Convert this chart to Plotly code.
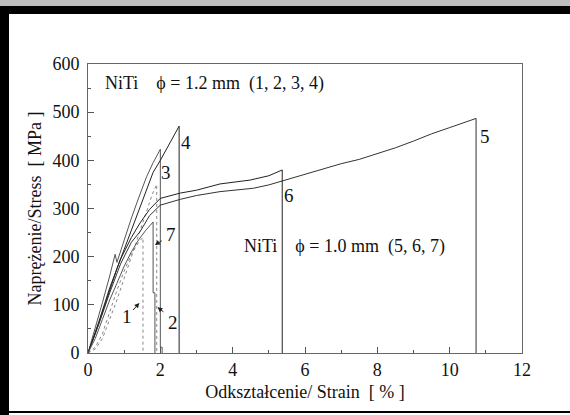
import plotly.graph_objects as go

# ---------------- data ----------------
x_tick_vals = [0, 2, 4, 6, 8, 10, 12]
y_tick_vals = [0, 100, 200, 300, 400, 500, 600]

# curve 1 (dotted)
x1 = [0, 0.2, 0.4, 0.6, 0.8, 1.0, 1.2, 1.4, 1.52, 1.52]
y1 = [0, 12, 40, 85, 130, 170, 205, 230, 240, 0]
# curve 2 (dotted)
x2 = [0, 0.2, 0.4, 0.6, 0.8, 1.0, 1.2, 1.4, 1.6, 1.78, 1.9, 1.9]
y2 = [0, 8, 30, 70, 110, 155, 200, 245, 290, 330, 350, 0]
# curve 3
x3 = [0, 0.2, 0.4, 0.6, 0.75, 0.8, 1.0, 1.2, 1.4, 1.62, 1.8, 2.0, 2.0, 2.05, 2.05]
y3 = [0, 50, 105, 160, 205, 188, 235, 280, 322, 366, 395, 423, 12, 12, 0]
# curve 4
x4 = [0, 0.2, 0.4, 0.6, 0.8, 1.0, 1.2, 1.4, 1.6, 1.8, 2.0, 2.2, 2.4, 2.52, 2.52]
y4 = [0, 40, 85, 130, 175, 215, 255, 295, 335, 375, 400, 428, 455, 471, 0]
# curve 5
x5 = [0, 0.3, 0.6, 0.9, 1.2, 1.44, 1.7, 2.0, 2.55, 3.0, 3.65, 4.57, 5.0, 5.37,
      6.0, 6.5, 7.0, 7.5, 8.0, 8.5, 9.0, 9.5, 10.0, 10.4, 10.73, 10.73]
y5 = [0, 60, 125, 185, 230, 252, 285, 307, 319, 327, 335, 342, 349, 357,
      372, 383, 393, 402, 414, 426, 440, 455, 468, 478, 487, 0]
# curve 6
x6 = [0, 0.3, 0.6, 0.9, 1.2, 1.44, 1.7, 2.0, 2.55, 3.0, 3.65, 4.48, 5.0, 5.37, 5.37]
y6 = [0, 65, 135, 195, 240, 270, 298, 321, 332, 338, 351, 359, 368, 380, 0]
# curve 7
x7 = [0, 0.2, 0.4, 0.6, 0.8, 1.0, 1.2, 1.4, 1.6, 1.8, 1.8, 1.85, 1.85]
y7 = [0, 30, 70, 110, 145, 180, 210, 235, 255, 272, 125, 125, 0]

curve_labels = ["1", "2", "3", "4", "5", "6", "7"]
label_x = [1.07, 2.34, 2.16, 2.71, 10.98, 5.57, 2.29]
label_y = [75, 63, 374, 436, 450, 328, 245]

FONT = "Liberation Serif"

fig = go.Figure()

def add(x, y, color, dash="solid", width=1):
    fig.add_trace(go.Scatter(x=x, y=y, mode="lines",
                             line=dict(color=color, width=width, dash=dash),
                             showlegend=False, hoverinfo="skip"))

add(x1, y1, "#888888", "dot")
add(x2, y2, "#888888", "dot")
add(x3, y3, "#555555")
add(x4, y4, "#222222")
add(x5, y5, "#333333")
add(x6, y6, "#222222")
add(x7, y7, "#555555")

# ------------- layout -------------
W, H = 570, 415
L, R, T, B = 88, 48, 64, 62
pw, ph = W - L - R, H - T - B

def px(x):
    return (x - L) / pw

def py(y):
    return (H - B - y) / ph

fig.update_layout(
    width=W, height=H,
    margin=dict(l=L, r=R, t=T, b=B),
    paper_bgcolor="white", plot_bgcolor="white",
    font=dict(family=FONT, size=18, color="#111111"),
    xaxis=dict(range=[0, 12], tickvals=x_tick_vals, ticks="inside", ticklen=6,
               tickcolor="#555555", showline=True, linecolor="#666666", linewidth=1,
               mirror=True, showgrid=False, zeroline=False,
               minor=dict(ticks="inside", ticklen=3, dtick=1, tickcolor="#555555"),
               title=dict(text="Odkształcenie/ Strain\u00a0\u00a0[ % ]", standoff=6,
                          font=dict(family=FONT, size=18)),
               tickfont=dict(family=FONT, size=18)),
    yaxis=dict(range=[0, 600], tickvals=y_tick_vals, ticks="inside", ticklen=6,
               tickcolor="#555555", showline=True, linecolor="#666666", linewidth=1,
               mirror=True, showgrid=False, zeroline=False,
               minor=dict(ticks="inside", ticklen=3, dtick=50, tickcolor="#555555"),
               title=dict(text="Naprężenie/Stress\u00a0\u00a0[ MPa ]", standoff=6,
                          font=dict(family=FONT, size=18)),
               tickfont=dict(family=FONT, size=18), ticklabelstandoff=4),
)

annotations = []
for t, xx, yy in zip(curve_labels, label_x, label_y):
    annotations.append(dict(x=xx, y=yy, text=t, showarrow=False,
                            font=dict(family=FONT, size=19, color="#111111")))
# arrows for labels 1, 2, 7
arrows = [(1.42, 104, 1.21, 86), (1.92, 95, 2.13, 83), (1.85, 224, 2.08, 235)]
for xh, yh, xt, yt in arrows:
    annotations.append(dict(x=xh, y=yh, ax=xt, ay=yt, axref="x", ayref="y",
                            text="", showarrow=True, arrowhead=2, arrowsize=1,
                            arrowwidth=1, arrowcolor="#222222"))
annotations.append(dict(x=0.41, y=560, xanchor="left", showarrow=False,
                        text="NiTi\u00a0\u00a0\u00a0\u00a0ϕ = 1.2 mm\u00a0\u00a0(1, 2, 3, 4)",
                        font=dict(family=FONT, size=18, color="#111111")))
annotations.append(dict(x=4.25, y=222, xanchor="left", showarrow=False,
                        text="NiTi\u00a0\u00a0\u00a0\u00a0ϕ = 1.0 mm\u00a0\u00a0(5, 6, 7)",
                        font=dict(family=FONT, size=18, color="#111111")))
fig.update_layout(annotations=annotations)

# decorative frame of the scanned figure
shapes = [
    dict(type="rect", xref="paper", yref="paper", x0=px(0), x1=px(W), y0=py(0), y1=py(6),
         fillcolor="#bdbdbd", line=dict(width=0), layer="below"),
    dict(type="rect", xref="paper", yref="paper", x0=px(0), x1=px(W), y0=py(6), y1=py(14),
         fillcolor="black", line=dict(width=0)),
    dict(type="rect", xref="paper", yref="paper", x0=px(0), x1=px(9), y0=py(6), y1=py(H),
         fillcolor="black", line=dict(width=0)),
    dict(type="rect", xref="paper", yref="paper", x0=px(0), x1=px(W), y0=py(411), y1=py(413),
         fillcolor="black", line=dict(width=0)),
]
fig.update_layout(shapes=shapes)

fig.write_html("out.html", config={"displayModeBar": False},
               post_script="document.body.style.margin='0';document.body.style.overflow='hidden';")
